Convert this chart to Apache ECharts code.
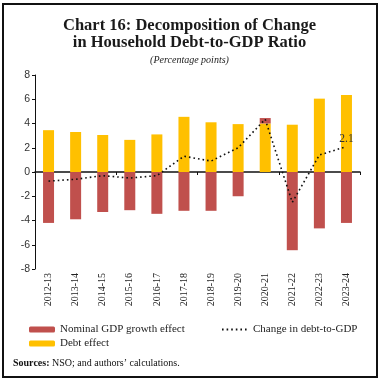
<!DOCTYPE html>
<html><head><meta charset="utf-8">
<script src="https://cdn.jsdelivr.net/npm/echarts@6/dist/echarts.min.js"></script>
<style>html,body{margin:0;padding:0;background:#fff}#c{width:379px;height:379px}</style>
</head><body><div id="c"></div>
<script>
const categories = ['2012-13','2013-14','2014-15','2015-16','2016-17','2017-18','2018-19','2019-20','2020-21','2021-22','2022-23','2023-24'];
const debtEffect = [3.45, 3.3, 3.05, 2.65, 3.1, 4.55, 4.1, 3.95, 4.0, 3.9, 6.05, 6.35];
const gdpEffect = [-4.2, -3.9, -3.3, -3.15, -3.45, -3.2, -3.2, -2.0, 0.45, -6.45, -4.65, -4.2];
const changeDebt = [-0.75, -0.6, -0.3, -0.5, -0.3, 1.3, 0.9, 2.0, 4.35, -2.5, 1.4, 2.1];
const yTicks = {min: -8, max: 8, interval: 2};

const serif = 'Liberation Serif';
const chart = echarts.init(document.getElementById('c'), null, {renderer: 'canvas'});
chart.setOption({
  animation: false,
  backgroundColor: '#fff',
  title: [
    {text: 'Chart 16: Decomposition of Change\nin Household Debt-to-GDP Ratio', left: 'center', top: 12,
     textStyle: {fontFamily: serif, fontWeight: 'bold', fontSize: 16.5, lineHeight: 17, color: '#1a1a1a'}},
    {text: '(Percentage points)', left: 'center', top: 50,
     textStyle: {fontFamily: serif, fontStyle: 'italic', fontWeight: 'normal', fontSize: 10, color: '#222'}}
  ],
  grid: {left: 35, right: 19, top: 75, bottom: 110, containLabel: false},
  legend: [
    {data: ['Nominal GDP growth effect'], left: 24, top: 319, itemWidth: 26, itemHeight: 6, itemGap: 4,
     textStyle: {fontFamily: serif, fontSize: 11, color: '#222'}},
    {data: ['Change in debt-to-GDP'], left: 216, top: 319, itemWidth: 26, itemHeight: 6,
     itemStyle: {opacity: 0},
     textStyle: {fontFamily: serif, fontSize: 11, color: '#222'}},
    {data: ['Debt effect'], left: 24, top: 333, itemWidth: 26, itemHeight: 6,
     textStyle: {fontFamily: serif, fontSize: 11, color: '#222'}}
  ],
  xAxis: [
    {type: 'category', data: categories, position: 'bottom',
     axisLine: {show: false, onZero: false}, axisTick: {show: false},
     axisLabel: {rotate: 90, margin: 4, fontFamily: serif, fontSize: 10, color: '#222', interval: 0}},
    {type: 'category', data: categories, position: 'top',
     axisLine: {show: true, onZero: true, lineStyle: {color: '#111', width: 1.5}},
     axisTick: {show: true, inside: true, length: 3, lineStyle: {color: '#111'}},
     axisLabel: {show: false}}
  ],
  yAxis: {type: 'value', min: yTicks.min, max: yTicks.max, interval: yTicks.interval,
    splitLine: {show: false},
    axisLine: {show: true, lineStyle: {color: '#111', width: 1}},
    axisTick: {show: true, length: 3, lineStyle: {color: '#111'}},
    axisLabel: {margin: 5, fontFamily: 'Liberation Sans', fontSize: 10.5, color: '#333'}},
  series: [
    {name: 'Debt effect', type: 'bar', stack: 'a', data: debtEffect, barWidth: 11,
     itemStyle: {color: '#FFC000'}},
    {name: 'Nominal GDP growth effect', type: 'bar', stack: 'a', data: gdpEffect, barWidth: 11,
     itemStyle: {color: '#C0504D'}},
    {name: 'Change in debt-to-GDP', type: 'line', data: changeDebt, symbol: 'circle', symbolSize: 0.1,
     showSymbol: true,
     lineStyle: {color: '#111', width: 1.6, type: [1.6, 3]},
     itemStyle: {color: '#111'},
     label: {show: true, position: 'top', distance: 2, offset: [7, 0], fontFamily: serif, fontSize: 11.5, color: '#333',
       formatter: p => p.dataIndex === changeDebt.length - 1 ? Number(p.value).toFixed(1) : ''},
     labelLayout: {hideOverlap: false},
     z: 5}
  ],
  graphic: [
    {type: 'rect', shape: {x: 3, y: 4, width: 374, height: 373}, style: {fill: 'none', stroke: '#111', lineWidth: 2}, silent: true},
    {type: 'text', left: 13, top: 358, style: {
      text: '{b|Sources:} NSO; and authors\u2019 calculations.',
      rich: {b: {fontWeight: 'bold', fontFamily: serif, fontSize: 10, fill: '#111'}},
      fontFamily: serif, fontSize: 10, fill: '#111'}}
  ]
});
</script></body></html>
